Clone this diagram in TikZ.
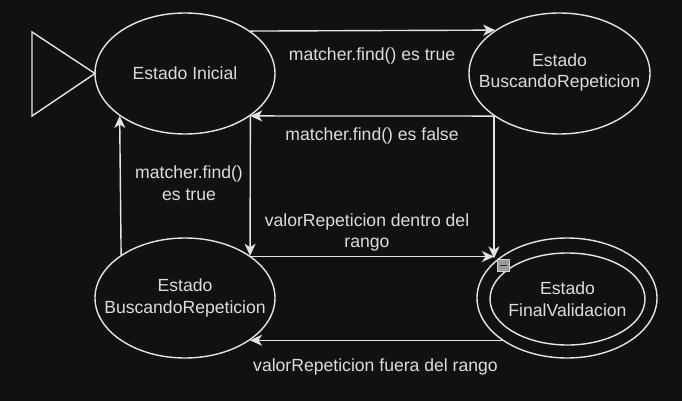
\documentclass[tikz,border=0pt]{standalone}
\usepackage{fontspec}
\setmainfont{Liberation Sans}
\usetikzlibrary{shapes.geometric,arrows.meta}
\definecolor{bg}{HTML}{111111}
\definecolor{fg}{HTML}{E4E4E4}
\definecolor{txt}{HTML}{DCDCDC}
\definecolor{iconfill}{HTML}{9A9A9A}
\definecolor{iconedge}{HTML}{CFCFCF}
\definecolor{icondark}{HTML}{2A2A2A}
\tikzset{
  lbl/.style={text=txt, align=center, inner sep=0pt,
    font=\fontsize{17.6}{21.5}\selectfont},
  state/.style={ellipse, draw=fg, line width=1.4pt, inner sep=0pt,
    minimum width=180pt, minimum height=121pt},
  arr/.style={draw=fg, line width=1.4pt, -{Stealth[length=12pt,width=11pt,inset=3.5pt]}},
  plain/.style={draw=fg, line width=1.4pt}
}
\begin{document}
\begin{tikzpicture}[x=1pt,y=-1pt]
\fill[bg] (0,0) rectangle (682,401);
\useasboundingbox (0,0) rectangle (682,401);
% start triangle
\draw[plain, line join=miter] (32,32) -- (32,116) -- (95,73.5) -- cycle;
% states
\node[state, label={[lbl]center:Estado Inicial}] (ini) at (185,73.5) {};
\node[state, minimum width=181pt, label={[lbl, yshift=1pt]center:Estado\\BuscandoRepeticion}] (br) at (559.5,73.5) {};
\node[state, minimum height=120pt, label={[lbl]center:Estado\\BuscandoRepeticion}] (bl) at (185,298) {};
\node[state, minimum height=120pt] (fin) at (567,298) {};
\node[state, minimum width=155pt, minimum height=92pt, label={[lbl]center:Estado\\FinalValidacion}] (finin) at (567.5,299) {};
% connectors
\draw[arr] (ini.33.6) -- (br.146.4);
\draw[arr] (br.213.6) -- (ini.-33.6);
\draw[arr] (br.213.6) -- (br.213.6 |- fin.150);
\draw[arr] (ini.-33.6) -- (bl.33.6);
\draw[arr] (bl.146.4) -- (ini.213.6);
\draw[arr] (bl.32.6) -- (bl.32.6 -| br.213.6);
\draw[arr] (fin.-147) -- (bl.-33.5 |- fin.-147);
% labels
\node[lbl] (l1) at (372,56) {matcher.find() es true};
\node[lbl] (l2) at (372,136) {matcher.find() es false};
\node[lbl] (l3) at (189,183) {matcher.find()\\es true};
\node[lbl] (l4) at (367,232.5) {valorRepeticion dentro del\\rango};
\node[lbl] (l5) at (375.5,367) {valorRepeticion fuera del rango};
% collapse icon
\node[draw=iconedge, fill=iconfill, line width=0.8pt, minimum size=12pt, inner sep=0pt] (icon) at (503.5,265.5) {};
\draw[icondark, line width=1.6pt] ([xshift=-3.5pt]icon.center) -- ([xshift=3.5pt]icon.center);
\end{tikzpicture}
\end{document}
